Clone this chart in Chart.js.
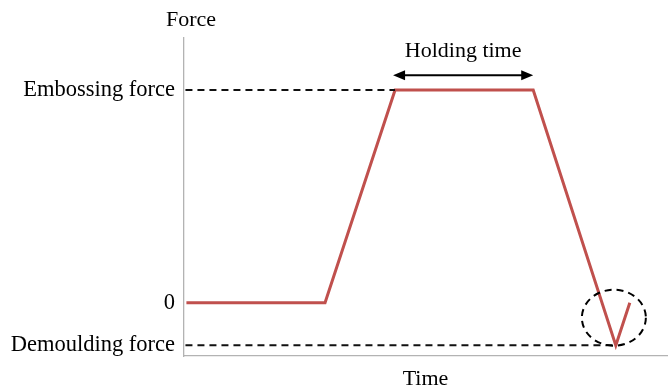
<!DOCTYPE html>
<html>
<head>
<meta charset="utf-8">
<script src="https://cdn.jsdelivr.net/npm/chart.js@4.4.1/dist/chart.umd.min.js"></script>
<style>
  html, body { margin: 0; padding: 0; background: #fff; }
</style>
</head>
<body>
<canvas id="force-chart" width="671" height="392"></canvas>
<script>
// Force profile (time in % of the axis, force in arbitrary units)
const timePoints = [0.5, 29.2, 43.7, 72.3, 89.4, 92.3];
const forceValues = [0, 0, 10, 10, -2, 0];

// Guide lines
const embossingForce = 10;
const demouldingForce = -2;
const embossingGuideEnd = 43.7;
const demouldingGuideEnd = 89.4;

// Y tick labels
const yTickValues = [demouldingForce, 0, embossingForce];
const yTickLabels = ['Demoulding force', '0', 'Embossing force'];

// Annotations
const holdingStart = 43.7;
const holdingEnd = 72.3;
const holdingArrowY = 10.7;
const holdingLabelY = 11.85;
const circleCenter = { x: 89.0, y: -0.7 };

const serif = '"Liberation Serif", "Times New Roman", serif';

const profileData = timePoints.map((t, i) => ({ x: t, y: forceValues[i] }));

const overlayPlugin = {
  id: 'overlay',
  afterDatasetsDraw(chart) {
    const ctx = chart.ctx;
    const xs = chart.scales.x;
    const ys = chart.scales.y;
    const area = chart.chartArea;
    ctx.save();

    // "Force" axis label above the y axis
    ctx.fillStyle = '#000';
    ctx.font = '22px ' + serif;
    ctx.textAlign = 'center';
    ctx.textBaseline = 'middle';
    ctx.fillText('Force', area.left + 7, area.top - 18);

    // Holding time arrow
    const x1 = xs.getPixelForValue(holdingStart) - 2;
    const x2 = xs.getPixelForValue(holdingEnd);
    const ay = ys.getPixelForValue(holdingArrowY);
    ctx.strokeStyle = '#000';
    ctx.lineWidth = 2;
    ctx.beginPath();
    ctx.moveTo(x1 + 8, ay);
    ctx.lineTo(x2 - 8, ay);
    ctx.stroke();
    ctx.beginPath();
    ctx.moveTo(x1, ay);
    ctx.lineTo(x1 + 12, ay - 5);
    ctx.lineTo(x1 + 12, ay + 5);
    ctx.closePath();
    ctx.moveTo(x2, ay);
    ctx.lineTo(x2 - 12, ay - 5);
    ctx.lineTo(x2 - 12, ay + 5);
    ctx.closePath();
    ctx.fill();
    ctx.fillText('Holding time', (x1 + x2) / 2, ys.getPixelForValue(holdingLabelY));

    // Dashed circle around demoulding point
    ctx.setLineDash([7, 5]);
    ctx.lineWidth = 2;
    ctx.beginPath();
    ctx.ellipse(xs.getPixelForValue(circleCenter.x), ys.getPixelForValue(circleCenter.y),
      32, 28, 0, 0, Math.PI * 2);
    ctx.stroke();
    ctx.restore();
  },
};

new Chart(document.getElementById('force-chart'), {
  type: 'line',
  data: {
    datasets: [
      {
        data: [{ x: 0.3, y: embossingForce }, { x: embossingGuideEnd, y: embossingForce }],
        borderColor: '#111',
        borderWidth: 2,
        borderDash: [7, 5],
        pointRadius: 0,
      },
      {
        data: [{ x: 0.3, y: demouldingForce }, { x: demouldingGuideEnd, y: demouldingForce }],
        borderColor: '#111',
        borderWidth: 2,
        borderDash: [7, 5],
        pointRadius: 0,
      },
      {
        data: profileData,
        borderColor: '#c0504d',
        borderWidth: 3,
        borderJoinStyle: 'miter',
        pointRadius: 0,
        tension: 0,
      },
    ],
  },
  options: {
    responsive: false,
    animation: false,
    layout: { padding: { top: 38, right: 4, left: 0, bottom: 0 } },
    plugins: {
      legend: { display: false },
      tooltip: { enabled: false },
    },
    scales: {
      x: {
        type: 'linear',
        min: 0,
        max: 100,
        grid: { display: false },
        border: { color: '#b3b3b3', width: 1.3 },
        ticks: { display: false },
        title: {
          display: true,
          text: 'Time',
          color: '#000',
          font: { family: serif, size: 22 },
          padding: { top: 0, bottom: 0 },
        },
        afterFit(scale) { scale.height = 36; },
      },
      y: {
        min: -2.5,
        max: 12.45,
        grid: { display: false },
        border: { color: '#b3b3b3', width: 1.3 },
        afterBuildTicks(scale) {
          scale.ticks = yTickValues.map((v) => ({ value: v }));
        },
        ticks: {
          autoSkip: false,
          padding: 1,
          color: '#000',
          font: { family: serif, size: 22.5 },
          callback: (v) => yTickLabels[yTickValues.indexOf(v)],
        },
        afterFit(scale) { scale.width = 184; },
      },
    },
  },
  plugins: [overlayPlugin],
});
</script>
</body>
</html>
